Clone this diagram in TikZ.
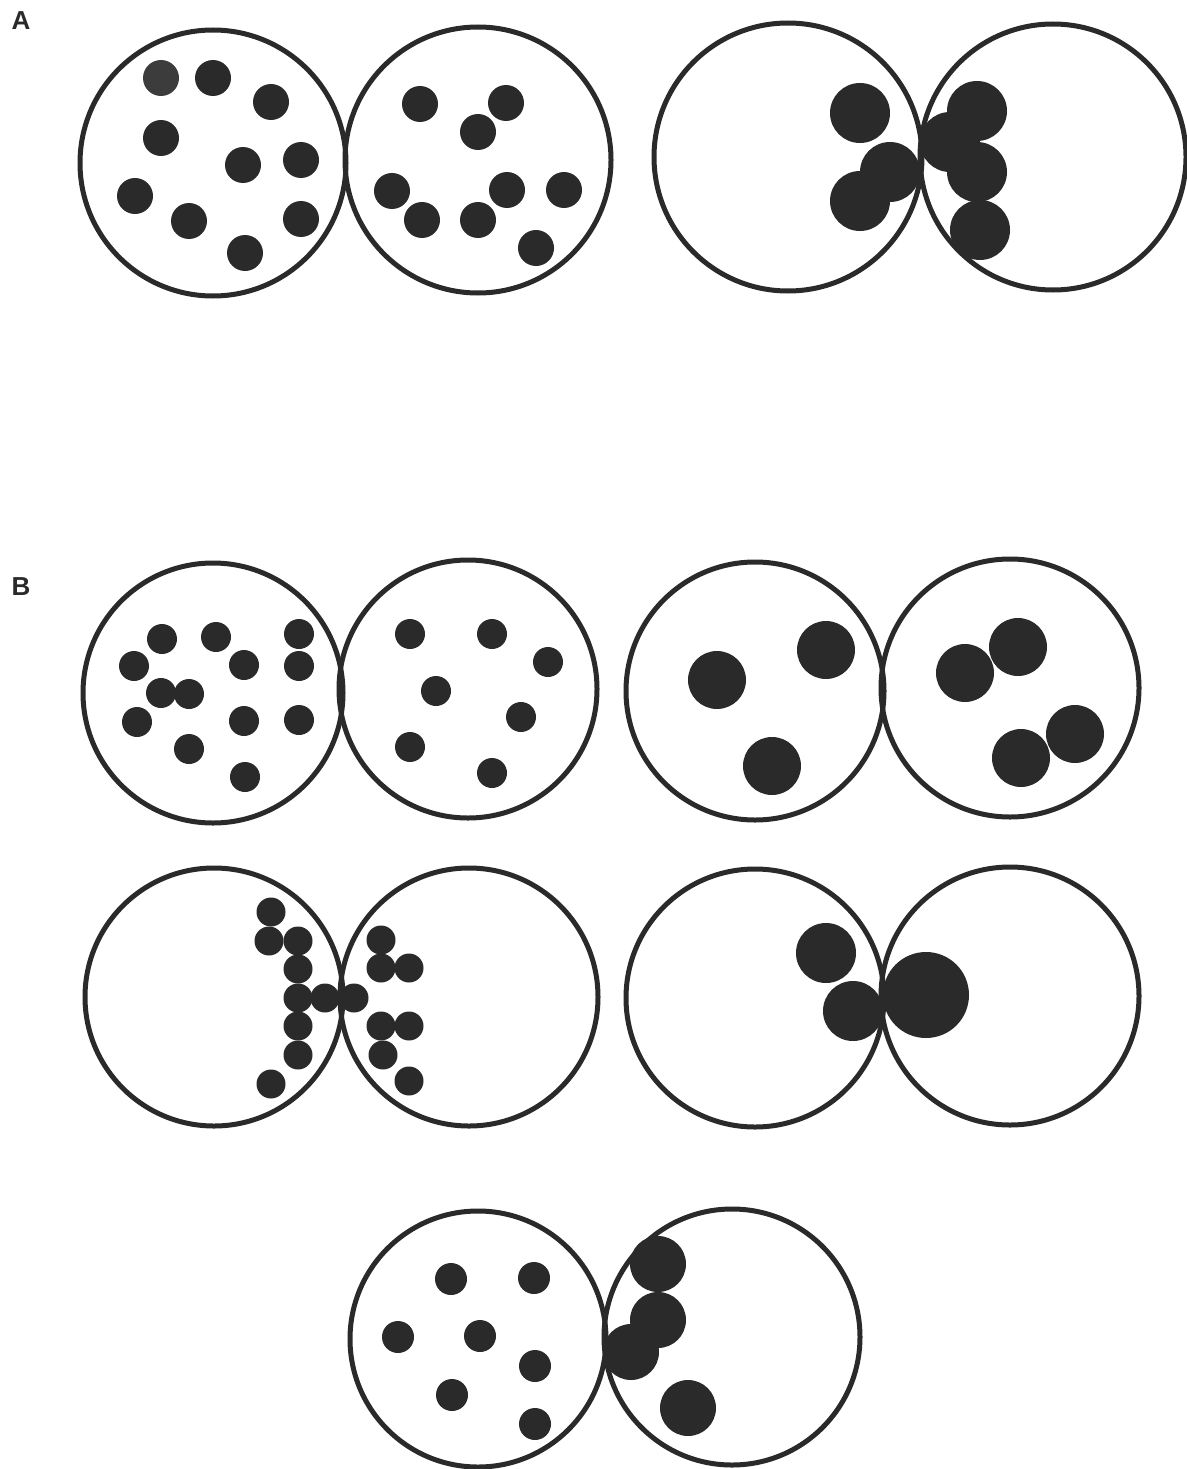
\documentclass[tikz,border=0pt]{standalone}
\usepackage{fontspec}
\setmainfont{Liberation Sans}
\definecolor{ink}{HTML}{2A2A2A}
\definecolor{inklight}{HTML}{3C3C3C}
\begin{document}
\begin{tikzpicture}[x=1pt,y=-1pt,
  cell/.style={draw=ink,line width=5pt},
  dot/.style={fill=ink},
  panellabel/.style={font=\bfseries\fontsize{26}{30}\selectfont,text=ink,inner sep=0pt,anchor=center}]
\useasboundingbox (0,0) rectangle (1186,1469);
\node[panellabel] (labA) at (21,21) {A};
\node[panellabel] (labB) at (21,587) {B};
% ---------- Panel A, left pair
\draw[cell] (213,163) circle[radius=133pt];
\draw[cell] (478,160) circle[radius=133pt];
\fill[inklight] (161,78) circle[radius=18pt];
\foreach \x/\y in {213/78, 271/102, 161/138, 243/165, 301/160, 135/196, 189/221, 301/219, 245/253}
  \fill[dot] (\x,\y) circle[radius=18pt];
\foreach \x/\y in {420/104, 506/103, 478/132, 392/191, 507/190, 564/190, 422/220, 478/220, 536/248}
  \fill[dot] (\x,\y) circle[radius=18pt];
% ---------- Panel A, right pair
\draw[cell] (788,157) circle[radius=134pt];
\draw[cell] (1053,157) circle[radius=133pt];
\foreach \x/\y in {860/113, 890/172, 860/201, 977/111, 950/142, 977/172, 980/230}
  \fill[dot] (\x,\y) circle[radius=30pt];
% ---------- Panel B, row 1 left pair
\draw[cell] (213,693) circle[radius=130pt];
\draw[cell] (468,689) circle[radius=129pt];
\foreach \x/\y in {162/639, 216/637, 299/634, 134/666, 244/665, 299/666, 161/693, 189/694, 137/722, 244/721, 299/720, 189/749, 245/777}
  \fill[dot] (\x,\y) circle[radius=15pt];
\foreach \x/\y in {410/634, 492/634, 548/662, 436/691, 521/717, 410/747, 492/773}
  \fill[dot] (\x,\y) circle[radius=15pt];
% ---------- Panel B, row 1 right pair
\draw[cell] (755,691) circle[radius=129pt];
\draw[cell] (1010,688) circle[radius=129pt];
\foreach \x/\y in {717/680, 826/650, 772/766, 965/673, 1018/647, 1075/734, 1021/758}
  \fill[dot] (\x,\y) circle[radius=29pt];
% ---------- Panel B, row 2 left pair
\draw[cell] (214,997) circle[radius=129pt];
\draw[cell] (469,997) circle[radius=129pt];
\foreach \x/\y in {271/912, 269/941, 298/941, 298/969, 298/998, 325/998, 298/1026, 298/1055, 271/1084, 354/998, 381/940, 381/968, 409/968, 381/1026, 409/1026, 383/1055, 409/1081}
  \fill[dot] (\x,\y) circle[radius=14.5pt];
% ---------- Panel B, row 2 right pair
\draw[cell] (755,998) circle[radius=129pt];
\draw[cell] (1010,996) circle[radius=129pt];
\fill[dot] (826,953) circle[radius=30pt];
\fill[dot] (853,1011) circle[radius=30pt];
\fill[dot] (926,995) circle[radius=43pt];
% ---------- Panel B, row 3
\draw[cell] (478,1339) circle[radius=128pt];
\draw[cell] (732,1337) circle[radius=128pt];
\foreach \x/\y in {451/1279, 534/1278, 398/1337, 480/1336, 535/1366, 452/1395, 535/1424}
  \fill[dot] (\x,\y) circle[radius=16pt];
\foreach \x/\y in {658/1264, 658/1320, 631/1352, 688/1408}
  \fill[dot] (\x,\y) circle[radius=28pt];
\end{tikzpicture}
\end{document}
